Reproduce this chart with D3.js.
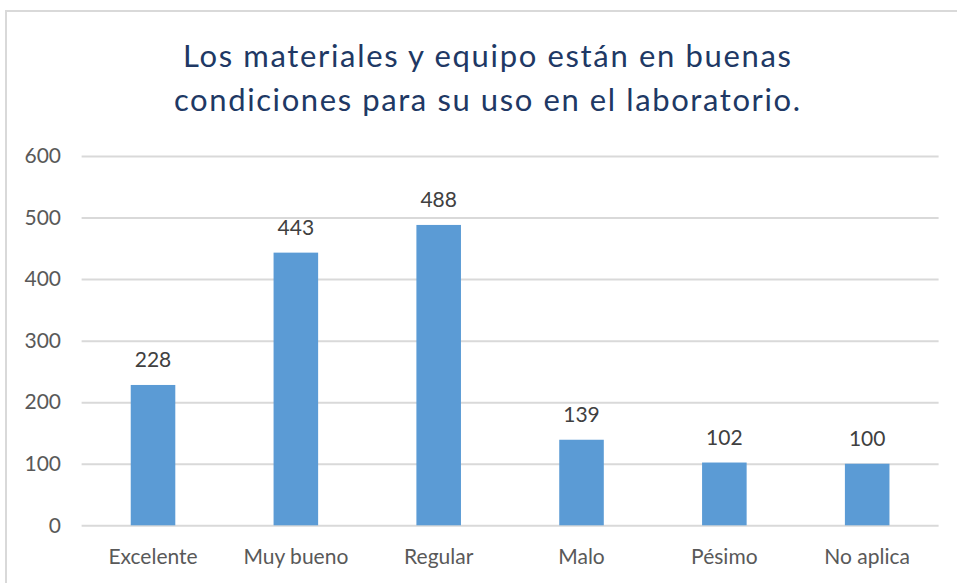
<!DOCTYPE html>
<html>
<head>
<meta charset="utf-8">
<script src="https://cdn.jsdelivr.net/npm/d3@7"></script>
<style>
  body { margin: 0; background: #fff; }
  svg { display: block; font-family: Lato, "Open Sans", sans-serif; }
</style>
</head>
<body>
<svg id="chart" width="957" height="583"></svg>
<script>
// chart data
const categories = ["Excelente", "Muy bueno", "Regular", "Malo", "Pésimo", "No aplica"];
const values = [228, 443, 488, 139, 102, 100];
const yTicks = [0, 100, 200, 300, 400, 500, 600];
const titleLines = ["Los materiales y equipo están en buenas", "condiciones para su uso en el laboratorio."];
const titleWidths = [608, 626];

const svg = d3.select("#chart");
const plot = { left: 81.6, right: 938.6, top: 156, bottom: 525.3 };

// outer frame (right and bottom edges fall outside the picture)
svg.append("rect")
    .attr("x", 6).attr("y", 11)
    .attr("width", 1100).attr("height", 1100)
    .attr("fill", "none")
    .attr("stroke", "#d9d9d9")
    .attr("stroke-width", 2);

// title, stretched to the width of the original lines
svg.append("g").selectAll("text")
    .data(titleLines)
    .join("text")
    .attr("x", 487)
    .attr("y", (d, i) => 67 + i * 43.5)
    .attr("text-anchor", "middle")
    .attr("font-size", "31px")
    .attr("fill", "#203864")
    .attr("textLength", (d, i) => titleWidths[i])
    .attr("lengthAdjust", "spacing")
    .text(d => d);

const x = d3.scaleBand()
    .domain(categories)
    .range([plot.left, plot.right])
    .paddingInner(0.688)
    .paddingOuter(0.344);

const y = d3.scaleLinear()
    .domain([0, 600])
    .range([plot.bottom, plot.top]);

// grid lines
svg.append("g")
    .attr("transform", `translate(${plot.left},0)`)
    .call(d3.axisLeft(y).tickValues(yTicks).tickSize(-(plot.right - plot.left)).tickFormat(""))
    .call(g => g.select(".domain").remove())
    .call(g => g.selectAll("line").attr("stroke", "#d9d9d9").attr("stroke-width", 2));

// y axis labels
svg.append("g")
    .attr("transform", `translate(61,0)`)
    .call(d3.axisLeft(y).tickValues(yTicks).tickSize(0).tickPadding(0))
    .call(g => g.select(".domain").remove())
    .call(g => g.selectAll("text")
        .attr("font-family", "Lato, sans-serif")
        .attr("font-size", "21px")
        .attr("fill", "#595959"));

// bars
svg.append("g").selectAll("rect")
    .data(values)
    .join("rect")
    .attr("x", (d, i) => x(categories[i]))
    .attr("y", d => y(d))
    .attr("width", x.bandwidth())
    .attr("height", d => y(0) - y(d))
    .attr("fill", "#5b9bd5");

// value labels
svg.append("g").selectAll("text")
    .data(values)
    .join("text")
    .attr("x", (d, i) => x(categories[i]) + x.bandwidth() / 2)
    .attr("y", d => y(d) - 18)
    .attr("text-anchor", "middle")
    .attr("font-size", "21px")
    .attr("fill", "#404040")
    .text(d => d);

// category labels
svg.append("g")
    .attr("transform", `translate(0,${plot.bottom})`)
    .call(d3.axisBottom(x).tickSize(0).tickPadding(0))
    .call(g => g.select(".domain").remove())
    .call(g => g.selectAll("text")
        .attr("dy", null)
        .attr("y", 39)
        .attr("font-family", "Lato, sans-serif")
        .attr("font-size", "21px")
        .attr("fill", "#595959"));
</script>
</body>
</html>
